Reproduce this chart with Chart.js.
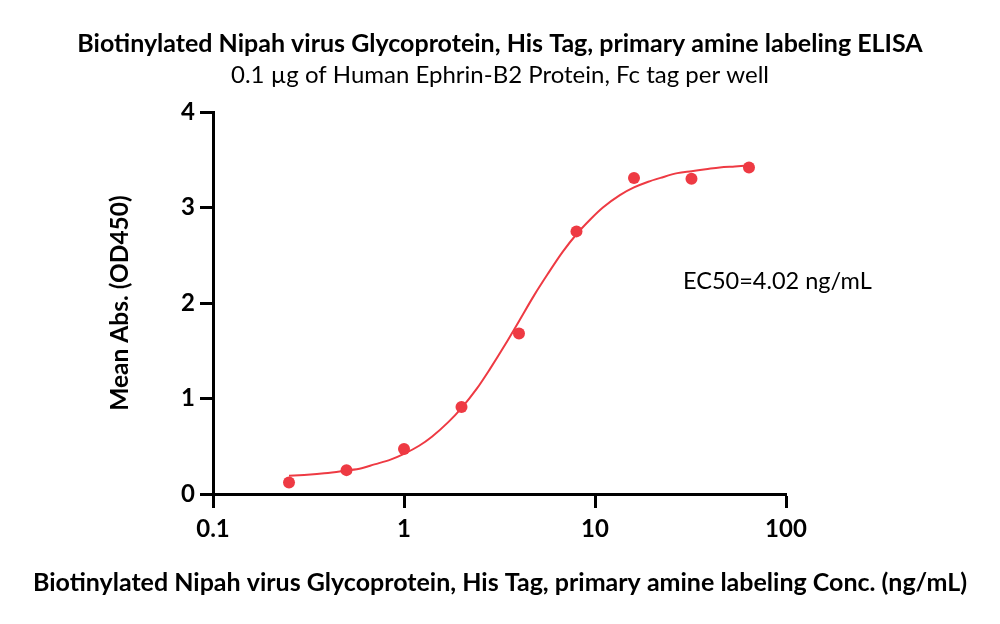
<!DOCTYPE html>
<html>
<head>
<meta charset="utf-8">
<script src="https://cdn.jsdelivr.net/npm/chart.js@4.4.1/dist/chart.umd.min.js"></script>
<style>
  html, body { margin: 0; padding: 0; background: #fff; }
  #wrap { width: 1000px; height: 624px; position: relative; }
</style>
</head>
<body>
<div id="wrap"><canvas id="c" width="1000" height="624"></canvas></div>
<script>
// ---- Data ----
const concentrations = [0.25, 0.5, 1, 2, 4, 8, 16, 32, 64];           // ng/mL
const meanAbs        = [0.12, 0.25, 0.47, 0.91, 1.68, 2.75, 3.31, 3.30, 3.42];

// fitted curve
const curveX = [0.25, 0.3, 0.35, 0.4, 0.5, 0.6, 0.7, 0.85, 1, 1.2, 1.4, 1.7, 2, 2.4, 2.8, 3.4, 4, 4.8, 5.6, 6.8, 8, 9.5, 11, 13.5, 16, 19, 22, 27, 32, 38, 45, 54, 64];
const curveY = [0.19, 0.20, 0.21, 0.22, 0.245, 0.27, 0.31, 0.36, 0.42, 0.505, 0.60, 0.75, 0.90, 1.10, 1.30, 1.57, 1.81, 2.08, 2.29, 2.54, 2.72, 2.88, 3.00, 3.13, 3.21, 3.27, 3.31, 3.36, 3.38, 3.40, 3.42, 3.43, 3.44];

const xTicks = [0.1, 1, 10, 100];
const yTicks = [0, 1, 2, 3, 4];

const titleText = 'Biotinylated Nipah virus Glycoprotein, His Tag, primary amine labeling ELISA';
const subtitleText = '0.1 µg of Human Ephrin-B2 Protein, Fc tag per well';
const xTitle = 'Biotinylated Nipah virus Glycoprotein, His Tag, primary amine labeling Conc. (ng/mL)';
const yTitle = 'Mean Abs. (OD450)';
const annotation = 'EC50=4.02 ng/mL';

const RED = 'rgb(238,58,67)';
const FONT = 'Lato, "Open Sans", sans-serif';

const textPlugin = {
  id: 'texts',
  afterDraw(chart) {
    const ctx = chart.ctx;
    const ca = chart.chartArea;
    ctx.save();
    ctx.fillStyle = '#000';
    ctx.textAlign = 'center';
    ctx.textBaseline = 'middle';
    ctx.font = 'bold 25px ' + FONT;
    ctx.fillText(titleText, 500, 44);
    ctx.font = '24px ' + FONT;
    ctx.fillText(subtitleText, 500, 75);
    ctx.font = 'bold 25px ' + FONT;
    ctx.fillText(xTitle, 500, 583);
    ctx.save();
    ctx.translate(120, (ca.top + ca.bottom) / 2);
    ctx.rotate(-Math.PI / 2);
    ctx.font = 'bold 24.5px ' + FONT;
    ctx.fillText(yTitle, 0, 0);
    ctx.restore();
    ctx.textAlign = 'left';
    ctx.font = '23.5px ' + FONT;
    ctx.fillText(annotation, 683, 281);
    ctx.restore();
  }
};

new Chart(document.getElementById('c'), {
  type: 'scatter',
  data: {
    datasets: [
      {
        label: 'fit',
        data: curveX.map((x, i) => ({ x, y: curveY[i] })),
        showLine: true,
        borderColor: RED,
        borderWidth: 2,
        pointRadius: 0,
        cubicInterpolationMode: 'monotone',
        fill: false
      },
      {
        label: 'data',
        data: concentrations.map((x, i) => ({ x, y: meanAbs[i] })),
        showLine: false,
        pointRadius: 6,
        pointBackgroundColor: RED,
        pointBorderColor: RED,
        pointBorderWidth: 0
      }
    ]
  },
  options: {
    responsive: false,
    animation: false,
    devicePixelRatio: 1,
    layout: { padding: { top: 112, right: 214, bottom: 0, left: 0 } },
    plugins: { legend: { display: false }, tooltip: { enabled: false }, title: { display: false } },
    scales: {
      x: {
        type: 'logarithmic',
        min: 0.1, max: 100,
        afterBuildTicks(scale) { scale.ticks = xTicks.map(v => ({ value: v })); },
        afterFit(scale) { scale.height = 130; },
        ticks: {
          color: '#000',
          font: { family: FONT, size: 24, weight: 'bold' },
          padding: 7,
          maxRotation: 0,
          autoSkip: false,
          callback: (v) => String(v)
        },
        grid: { display: true, drawOnChartArea: false, drawTicks: true, tickLength: 14, tickWidth: 3, tickColor: '#000' },
        border: { display: true, width: 3, color: '#000' }
      },
      y: {
        min: 0, max: 4,
        afterBuildTicks(scale) { scale.ticks = yTicks.map(v => ({ value: v })); },
        afterFit(scale) { scale.width = 213; },
        ticks: {
          color: '#000',
          font: { family: FONT, size: 24, weight: 'bold' },
          padding: 5,
          callback: (v) => String(v)
        },
        grid: { display: true, drawOnChartArea: false, drawTicks: true, tickLength: 13, tickWidth: 3, tickColor: '#000' },
        border: { display: true, width: 3, color: '#000' }
      }
    }
  },
  plugins: [textPlugin]
});
</script>
</body>
</html>
